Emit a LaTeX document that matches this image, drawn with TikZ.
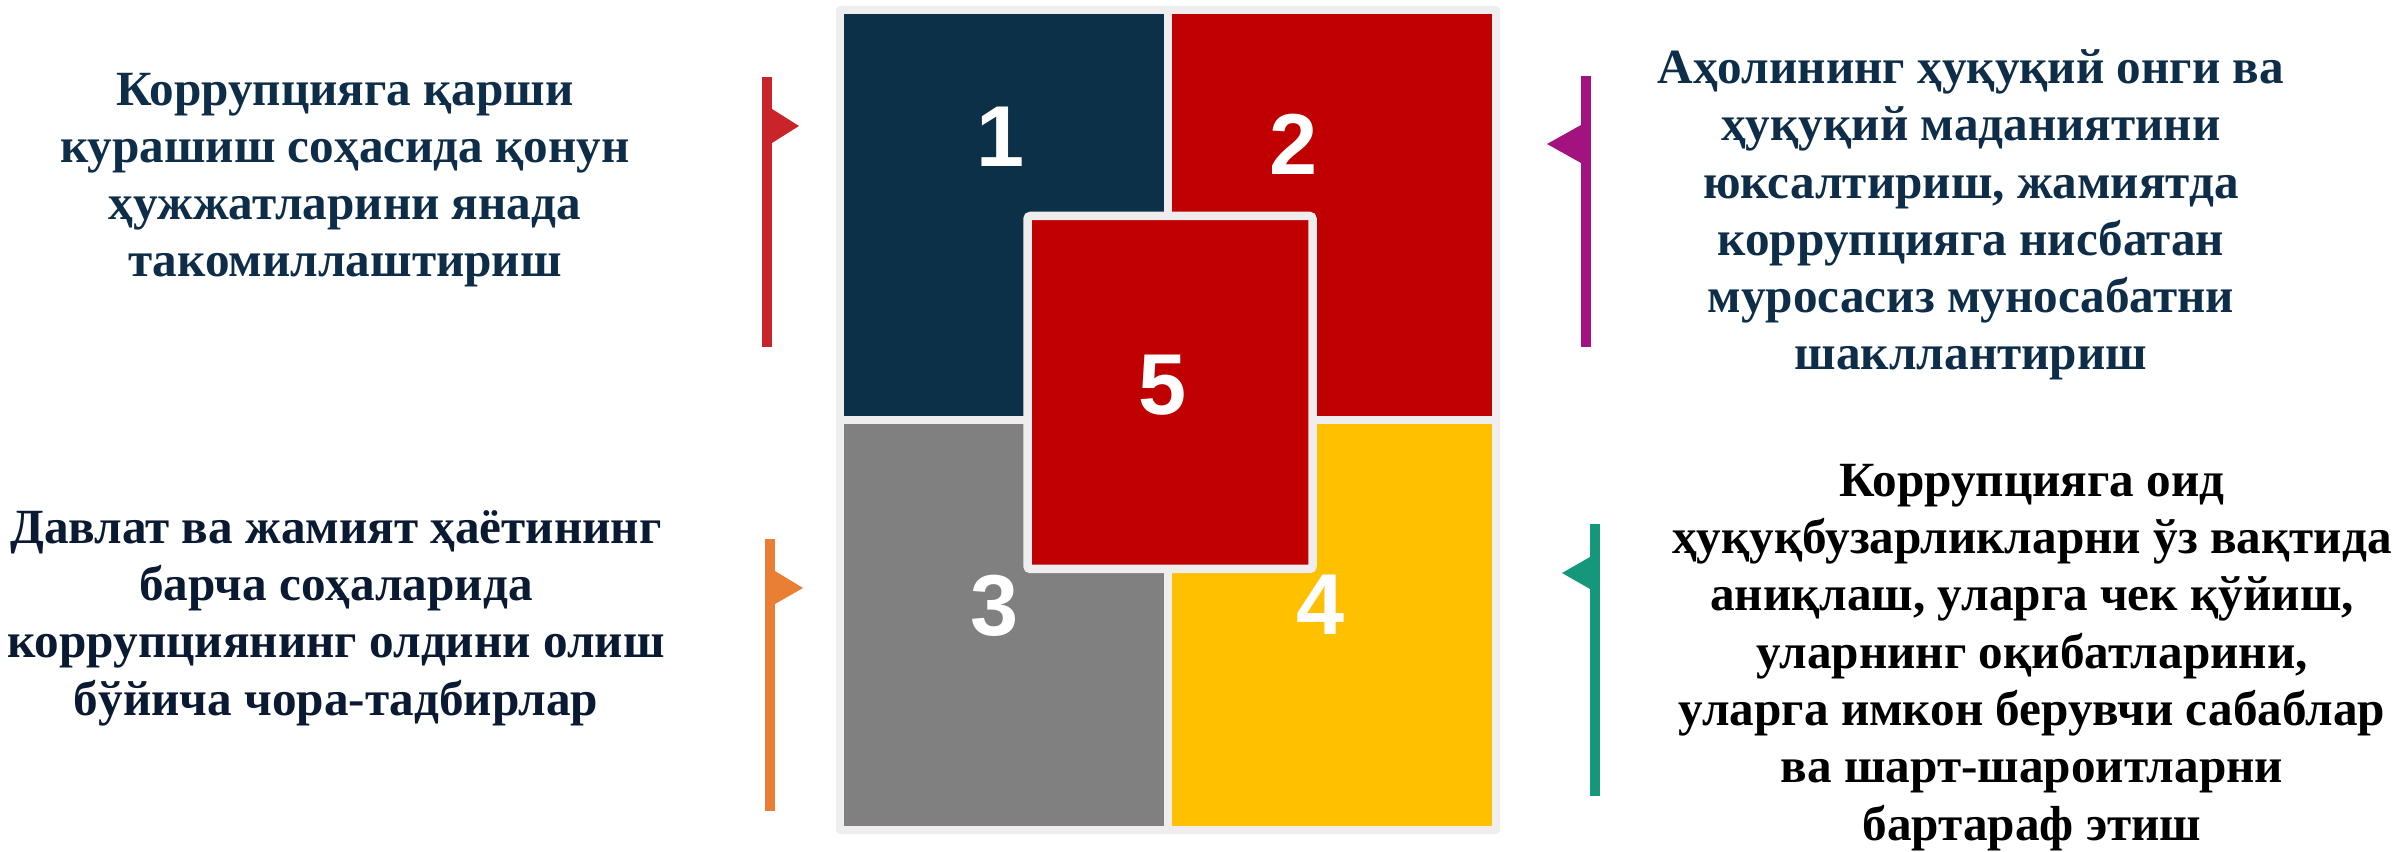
\documentclass[tikz,border=0pt]{standalone}
\usepackage{fontspec}
\setmainfont{Liberation Serif}
\newfontfamily\numfont{Liberation Sans}
\definecolor{framegray}{RGB}{239,237,237}
\definecolor{boxnavy}{RGB}{13,48,73}
\definecolor{boxred}{RGB}{192,0,0}
\definecolor{boxgray}{RGB}{128,128,128}
\definecolor{boxyellow}{RGB}{255,192,0}
\definecolor{flagred}{RGB}{201,36,42}
\definecolor{flagorange}{RGB}{233,126,53}
\definecolor{flagmagenta}{RGB}{163,19,127}
\definecolor{flaggreen}{RGB}{21,151,123}
\definecolor{textnavy}{RGB}{14,45,72}
\definecolor{textdark}{RGB}{10,26,50}
\begin{document}
\begin{tikzpicture}[x=0.1mm, y=-0.1mm,
  caption/.style={align=center, anchor=base, inner sep=0pt, font=\bfseries\fontsize{14}{16.3}\selectfont},
  digit/.style={text=white, inner sep=0pt, font=\numfont\bfseries\fontsize{24.6}{24.6}\selectfont}]
\useasboundingbox (0,0) rectangle (2392,852);
\fill[framegray, rounded corners=0.4mm] (836,6) rectangle (1500,834);
\fill[boxnavy] (844,14) rectangle (1164,416);
\fill[boxred] (1172,14) rectangle (1492,416);
\fill[boxgray] (844,424) rectangle (1164,826);
\fill[boxyellow] (1172,424) rectangle (1492,826);
\filldraw[fill=boxred, draw=framegray, line width=0.85mm, rounded corners=0.3mm] (1027.5,216) rectangle (1312.5,569);
\node[digit] (n1) at (1001,137) {1};
\node[digit] (n2) at (1294,144) {2};
\node[digit] (n5) at (1163,385) {5};
\node[digit] (n3) at (995,606) {3};
\node[digit] (n4) at (1321,605) {4};
\fill[flagred] (762,77) rectangle (772,347);
\fill[flagred] (772,109) -- (799,126) -- (772,143) -- cycle;
\fill[flagorange] (765,539) rectangle (775,811);
\fill[flagorange] (775,571) -- (803,588) -- (775,604) -- cycle;
\fill[flagmagenta] (1581,76) rectangle (1591,347);
\fill[flagmagenta] (1581,125) -- (1547,144) -- (1581,163) -- cycle;
\fill[flaggreen] (1590,524) rectangle (1600,796);
\fill[flaggreen] (1590,557) -- (1562,573) -- (1590,589) -- cycle;
\node[caption, text=textnavy] (law) at (345,277) {Коррупцияга қарши\\курашиш соҳасида қонун\\ҳужжатларини янада\\такомиллаштириш};
\node[caption, text=textdark] (prevent) at (336,715) {Давлат ва жамият ҳаётининг\\барча соҳаларида\\коррупциянинг олдини олиш\\бўйича чора-тадбирлар};
\node[caption, text=textnavy] (culture) at (1971,370) {Аҳолининг ҳуқуқий онги ва\\ҳуқуқий маданиятини\\юксалтириш, жамиятда\\коррупцияга нисбатан\\муросасиз муносабатни\\шакллантириш};
\node[caption, text=black] (detect) at (2032,840) {Коррупцияга оид\\ҳуқуқбузарликларни ўз вақтида\\аниқлаш, уларга чек қўйиш,\\уларнинг оқибатларини,\\уларга имкон берувчи сабаблар\\ва шарт-шароитларни\\бартараф этиш};
\end{tikzpicture}
\end{document}
